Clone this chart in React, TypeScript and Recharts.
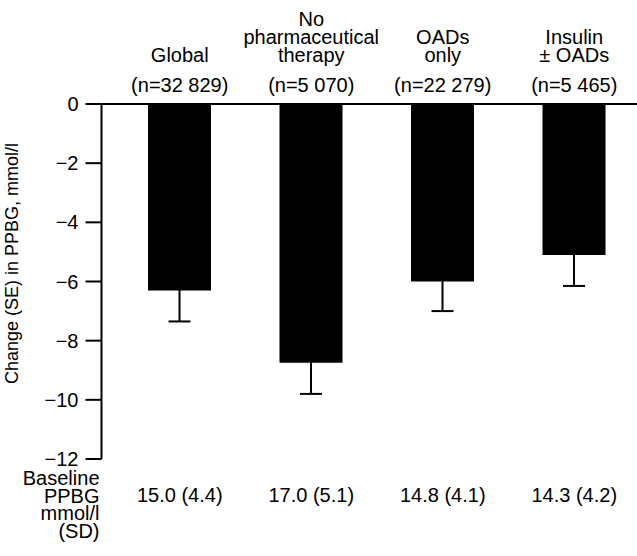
import React from 'react';
import { BarChart, Bar, XAxis, YAxis, ErrorBar, Label } from 'recharts';

const categories = ['Global', 'No pharmaceutical therapy', 'OADs only', 'Insulin ± OADs'];
const categoryLines = [['Global'], ['No', 'pharmaceutical', 'therapy'], ['OADs', 'only'], ['Insulin', '± OADs']];
const sampleSizes = ['(n=32 829)', '(n=5 070)', '(n=22 279)', '(n=5 465)'];
const changeValues = [-6.3, -8.75, -6.0, -5.1];
const seValues = [1.05, 1.05, 1.0, 1.05];
const baselineLabels = ['15.0 (4.4)', '17.0 (5.1)', '14.8 (4.1)', '14.3 (4.2)'];
const baselineTitle = ['Baseline', 'PPBG', 'mmol/l', '(SD)'];
const yTicks = [0, -2, -4, -6, -8, -10, -12];
const yTitle = 'Change (SE) in PPBG, mmol/l';

const data = categories.map((c, i) => ({ name: c, change: changeValues[i], se: seValues[i] }));

const FONT = '"Liberation Sans", Arial, Helvetica, sans-serif';
const FS = 20;
const TITLE_FS = 18;

const TopTick = (props: any) => {
  const { x, payload } = props;
  const i = categories.indexOf(payload.value);
  const lines = categoryLines[i] || [];
  const lastBaseline = 62;
  const lh = 18;
  return (
    <g>
      {lines.map((l, k) => (
        <text key={k} x={x} y={lastBaseline - (lines.length - 1 - k) * lh} textAnchor="middle" fontSize={FS} fill="#000" fontFamily={FONT}>
          {l}
        </text>
      ))}
      <text x={x} y={92} textAnchor="middle" fontSize={FS} fill="#000" fontFamily={FONT}>
        {sampleSizes[i]}
      </text>
    </g>
  );
};

const BottomTick = (props: any) => {
  const { x, payload } = props;
  const i = categories.indexOf(payload.value);
  return (
    <text x={x} y={502} textAnchor="middle" fontSize={FS} fill="#000" fontFamily={FONT}>
      {baselineLabels[i]}
    </text>
  );
};

const BaselineTitle = (props: any) => {
  const vb = props.viewBox || { x: 101.5 };
  return (
    <g>
      {baselineTitle.map((l, k) => (
        <text key={k} x={vb.x - 2} y={485 + k * 17.5} textAnchor="end" fontSize={FS} fill="#000" fontFamily={FONT}>
          {l}
        </text>
      ))}
    </g>
  );
};

const YTitle = (props: any) => {
  const vb = props.viewBox || { x: 0, y: 104, width: 101.5, height: 355 };
  const cy = vb.y + vb.height / 2 - 18;
  const cx = 18;
  return (
    <text x={cx} y={cy} transform={`rotate(-90 ${cx} ${cy})`} textAnchor="middle" fontSize={TITLE_FS} fill="#000" fontFamily={FONT}>
      {yTitle}
    </text>
  );
};

const fmt = (v: number) => (v < 0 ? '\u2212' + Math.abs(v) : String(v));

export default function App() {
  return (
    <div style={{ position: 'absolute', left: 0, top: 0, width: 637, height: 556, overflow: 'hidden', background: '#fff', fontFamily: FONT }}>
      <BarChart width={641} height={556} data={data} margin={{ top: 0, right: 1, left: 0, bottom: 0 }}>
        <XAxis
          xAxisId="top"
          dataKey="name"
          orientation="top"
          height={104}
          padding={{ left: 12.5, right: 0 }}
          axisLine={{ stroke: '#000', strokeWidth: 2 }}
          tickLine={false}
          tick={<TopTick />}
          interval={0}
        />
        <XAxis
          xAxisId="bottom"
          dataKey="name"
          orientation="bottom"
          height={97}
          padding={{ left: 12.5, right: 0 }}
          axisLine={false}
          tickLine={false}
          tick={<BottomTick />}
          interval={0}
        >
          <Label content={<BaselineTitle />} />
        </XAxis>
        <YAxis
          width={101.5}
          domain={[-12, 0]}
          ticks={yTicks}
          interval={0}
          tickSize={16}
          tickMargin={7}
          tickFormatter={fmt}
          axisLine={{ stroke: '#000', strokeWidth: 2 }}
          tickLine={{ stroke: '#000', strokeWidth: 2 }}
          tick={{ fill: '#000', fontSize: FS, fontFamily: FONT }}
        >
          <Label content={<YTitle />} />
        </YAxis>
        <Bar xAxisId="top" dataKey="change" fill="#000" barSize={63} isAnimationActive={false}>
          <ErrorBar dataKey="se" width={11} strokeWidth={2} stroke="#000" direction="y" isAnimationActive={false} />
        </Bar>
      </BarChart>
    </div>
  );
}
